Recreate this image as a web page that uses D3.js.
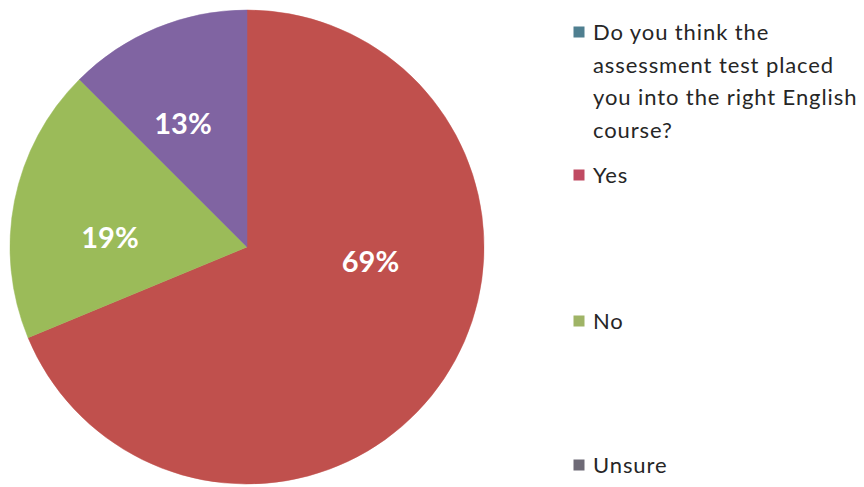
<!DOCTYPE html>
<html>
<head>
<meta charset="utf-8">
<script src="https://cdn.jsdelivr.net/npm/d3@7/dist/d3.min.js"></script>
<style>
  html, body { margin: 0; padding: 0; background: #ffffff; }
  svg { display: block; }
</style>
</head>
<body>
<svg id="chart" width="864" height="487"></svg>
<script>
// Survey answers, as shares of all responses (percent)
const categories = ["Do you think the assessment test placed you into the right English course?", "Yes", "No", "Unsure"];
const shares = [0, 68.75, 18.75, 12.5];
// Legend text, broken into lines
const legendLines = [
  ["Do you think the", "assessment test placed", "you into the right English", "course?"],
  ["Yes"],
  ["No"],
  ["Unsure"]
];

// Office-style palette for slices and legend swatches
const sliceColors = ["#4f81bd", "#c0504d", "#9bbb59", "#8064a2"];
const swatchColors = ["#4f7f90", "#c04a62", "#9fb466", "#6e6a76"];

const svg = d3.select("#chart");
const cx = 247, cy = 247, R = 237;

const data = categories.map((name, i) => ({ name, value: shares[i], i }));

const pie = d3.pie().sort(null).value(d => d.value);
const arcs = pie(data);
const arc = d3.arc().innerRadius(0).outerRadius(R);

const g = svg.append("g").attr("transform", `translate(${cx},${cy})`);

g.selectAll("path.slice")
  .data(arcs.filter(a => a.data.value > 0))
  .join("path")
  .attr("class", "slice")
  .attr("d", arc)
  .attr("fill", d => sliceColors[d.data.i])
  .attr("stroke", d => sliceColors[d.data.i])
  .attr("stroke-width", 0.5);

// Percentage labels inside each slice; smaller slices push the label outward
const fmt = d3.format(".0%");
const labelPos = a => {
  const frac = (a.endAngle - a.startAngle) / (2 * Math.PI);
  const ang = a.startAngle + 0.39 * (a.endAngle - a.startAngle);
  const r = R * (0.60 - 0.11 * frac);
  return [Math.sin(ang) * r, -Math.cos(ang) * r];
};
g.selectAll("text.pct")
  .data(arcs.filter(a => a.data.value > 0))
  .join("text")
  .attr("class", "pct")
  .attr("transform", d => `translate(${labelPos(d)})`)
  .attr("text-anchor", "middle")
  .attr("dy", "0.36em")
  .attr("fill", "#ffffff")
  .style("font-family", "Lato, 'Open Sans', sans-serif")
  .style("font-weight", "700")
  .style("font-size", "29px")
  .text(d => fmt(d.data.value / 100));

// Legend
const legendX = 579, textX = 593, lineStep = 32.5;
const rowY = [32, 175, 321, 465];
const legend = svg.append("g")
  .style("font-family", "Lato, 'Open Sans', sans-serif")
  .style("font-size", "22px")
  .style("letter-spacing", "0.9px")
  .attr("fill", "#262626");

data.forEach((d, i) => {
  const row = legend.append("g");
  row.append("rect")
    .attr("x", legendX - 5.5).attr("y", rowY[i] - 5.5)
    .attr("width", 11).attr("height", 11)
    .attr("fill", swatchColors[i]);
  row.append("text")
    .attr("x", textX)
    .attr("y", rowY[i] + 8)
    .selectAll("tspan")
    .data(legendLines[i])
    .join("tspan")
    .attr("x", textX)
    .attr("dy", (t, j) => j === 0 ? 0 : lineStep)
    .text(t => t);
});
</script>
</body>
</html>
